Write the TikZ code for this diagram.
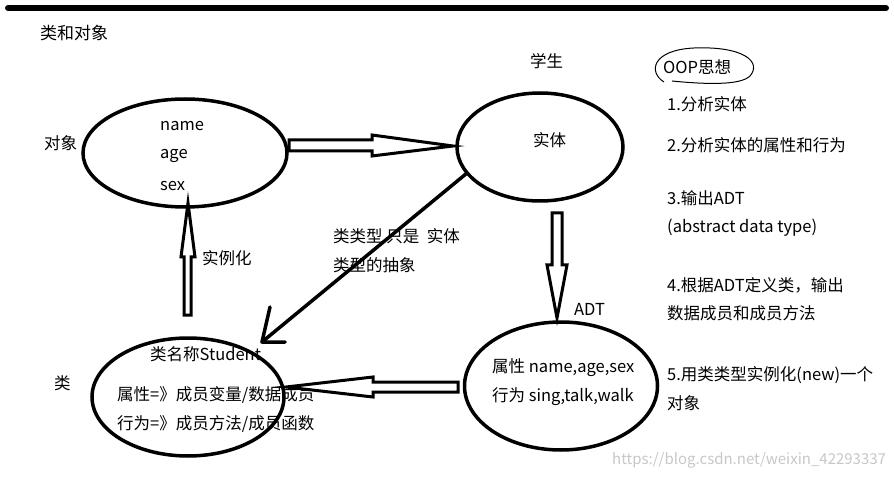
\documentclass[tikz,border=0pt]{standalone}
\usepackage{fontspec}
\setmainfont{Noto Sans CJK SC}
\usetikzlibrary{shapes.geometric}
\begin{document}
\begin{tikzpicture}[x=1pt,y=-1pt,
  oval/.style={draw,ellipse,line width=3.5pt,inner sep=0pt},
  lbl/.style={font=\fontsize{16.5}{19}\selectfont,inner sep=0pt,anchor=west},
  hollow/.style={draw,line width=3pt,line join=miter,fill=white},
  thinarrow/.style={draw,line width=3.5pt,line cap=round,line join=round}]
\useasboundingbox (0,0) rectangle (894,478);
% top bar
\coordinate (barL) at (8,8);
\coordinate (barR) at (886,8);
\draw[line width=6pt,line cap=round] (barL) -- (barR);
\node[lbl,font=\fontsize{17}{19}\selectfont] (title) at (40,33) {类和对象};
% ellipses
\node[oval,minimum width=204pt,minimum height=108pt] (obj) at (185,153) {};
\node[oval,minimum width=166pt,minimum height=108pt] (ent) at (540,147) {};
\node[oval,minimum width=192pt,minimum height=118pt] (cls) at (188,397) {};
\node[oval,minimum width=193pt,minimum height=128pt] (adt) at (561,386) {};
% texts in ellipses
\node[lbl] (t1) at (160,126) {name};
\node[lbl] (t2) at (160,156) {age};
\node[lbl] (t3) at (160,186) {sex};
\node[lbl] (tent) at (533,140) {实体};
\node[lbl] (c1) at (150,354) {类名称Student};
\node[lbl] (c2) at (117,395) {属性=》成员变量/数据成员};
\node[lbl] (c3) at (117,424) {行为=》成员方法/成员函数};
\node[lbl] (a1) at (492,368) {属性 name,age,sex};
\node[lbl] (a2) at (492,397) {行为 sing,talk,walk};
% side labels
\node[lbl] (lobj) at (44,143) {对象};
\node[lbl] (lcls) at (54,383) {类};
\node[lbl] (lstu) at (530,61) {学生};
\node[lbl] (ladt) at (574,309) {ADT};
\node[lbl] (linst) at (202,258) {实例化};
\node[lbl] (lab1) at (333,236) {类类型 只是 \ 实体};
\node[lbl] (lab2) at (333,265) {类型的抽象};
% hollow arrows
\draw[hollow] (289,140) -- (372,140) -- (372,135) -- (453,146) -- (372,156) -- (372,151) -- (289,151) -- cycle;
\draw[hollow] (552,213) -- (562,213) -- (562,265) -- (567,265) -- (557,318) -- (547,265) -- (552,265) -- cycle;
\draw[hollow] (458,382) -- (458,392) -- (373,392) -- (373,397) -- (286,387) -- (373,377) -- (373,382) -- cycle;
\draw[hollow] (184,315) -- (191,315) -- (191,257) -- (195,257) -- (188,203) -- (181,257) -- (184,257) -- cycle;
% thin arrow
\coordinate (tip) at (262,342);
\coordinate (barbA) at (270,307);
\coordinate (barbB) at (285,342);
\draw[thinarrow] (ent.200) -- (tip);
\draw[thinarrow] (barbA) -- (tip) -- (barbB);
% OOP loop
\node[lbl] (oop) at (663,67) {OOP思想};
\draw[line width=1pt] (664,82) .. controls (648,72) and (652,50) .. (694,48)
  .. controls (744,46) and (762,62) .. (750,76)
  .. controls (740,86) and (702,84) .. (672,81);
% right list
\node[lbl] (r1) at (667,104) {1.分析实体};
\node[lbl] (r2) at (667,145) {2.分析实体的属性和行为};
\node[lbl] (r3) at (667,198) {3.输出ADT};
\node[lbl] (r3b) at (667,228) {(abstract data type)};
\node[lbl] (r4) at (667,285) {4.根据ADT定义类，输出};
\node[lbl] (r4b) at (667,313) {数据成员和成员方法};
\node[lbl] (r5) at (667,375) {5.用类类型实例化(new)一个};
\node[lbl] (r5b) at (667,403) {对象};
% watermark
\node[lbl,text=black!22,font=\fontsize{15}{18}\selectfont] (wm) at (612,460) {https://blog.csdn.net/weixin\_42293337};
\end{tikzpicture}
\end{document}
